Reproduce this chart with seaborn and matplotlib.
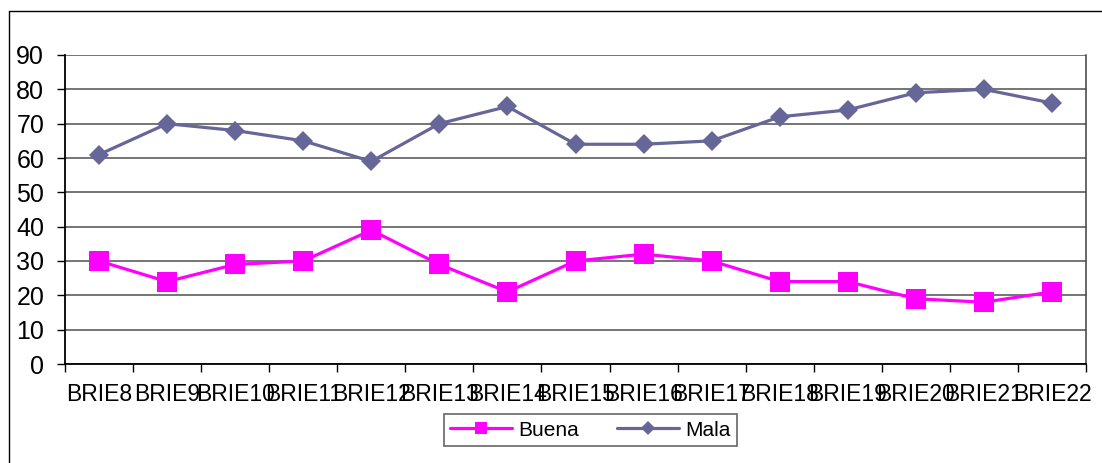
import pandas as pd
import matplotlib
matplotlib.use("Agg")
import matplotlib.pyplot as plt
from matplotlib.lines import Line2D
from matplotlib.ticker import FixedLocator
import seaborn as sns

# --- data ---
categories = ["BRIE8", "BRIE9", "BRIE10", "BRIE11", "BRIE12", "BRIE13", "BRIE14",
              "BRIE15", "BRIE16", "BRIE17", "BRIE18", "BRIE19", "BRIE20", "BRIE21", "BRIE22"]
buena = [30, 24, 29, 30, 39, 29, 21, 30, 32, 30, 24, 24, 19, 18, 21]
mala = [61, 70, 68, 65, 59, 70, 75, 64, 64, 65, 72, 74, 79, 80, 76]
series_names = ["Buena", "Mala"]
y_ticks = [0, 10, 20, 30, 40, 50, 60, 70, 80, 90]

df = pd.DataFrame({
    "cat": categories * 2,
    "valor": buena + mala,
    "serie": ["Buena"] * len(buena) + ["Mala"] * len(mala),
})

colors = {"Buena": "#FF00FF", "Mala": "#666699"}
markers = {"Buena": "s", "Mala": "D"}

sns.set_style("white")
plt.rcParams["font.family"] = ["Liberation Sans", "DejaVu Sans"]
plt.rcParams["text.color"] = "black"
plt.rcParams["xtick.color"] = "black"
plt.rcParams["ytick.color"] = "black"

W, H = 1102, 463
fig = plt.figure(figsize=(W / 100, H / 100), dpi=100)
ax = fig.add_axes([65 / W, (H - 364) / H, (1086 - 65) / W, (364 - 55) / H])

# grid lines first
for v in y_ticks:
    ax.axhline(v, color="#505050", lw=1.1, zorder=0)

for name in series_names:
    sub = df[df["serie"] == name]
    sns.lineplot(data=sub, x="cat", y="valor", ax=ax, color=colors[name],
                 marker=markers[name], markersize=15 if name == "Buena" else 10.5,
                 markeredgewidth=0, linewidth=2.3, sort=False, legend=False,
                 zorder=3)

ax.set_xlim(-0.5, len(categories) - 0.5)
ax.set_ylim(0, 90)
ax.set_yticks(y_ticks)
ax.set_xticks(range(len(categories)))
ax.set_xticklabels(categories)
ax.xaxis.set_minor_locator(FixedLocator([i - 0.5 for i in range(len(categories) + 1)]))
ax.tick_params(axis="x", which="major", length=0, pad=14, labelsize=16.5, labelcolor="black")
ax.tick_params(axis="x", which="minor", length=6, width=1, color="black", bottom=True)
ax.tick_params(axis="y", length=6, width=1, color="black", pad=9, labelsize=18,
               labelcolor="black", left=True)
ax.set_xlabel("")
ax.set_ylabel("")

for side in ["left", "bottom"]:
    ax.spines[side].set_color("black")
    ax.spines[side].set_linewidth(1.3)
ax.spines["right"].set_color("#404040")
ax.spines["right"].set_linewidth(1.1)
ax.spines["top"].set_visible(False)

# legend
handles = [Line2D([], [], color=colors[n], marker=markers[n], lw=2.3,
                  markersize=9 if n == "Buena" else 7, markeredgewidth=0)
           for n in series_names]
leg = fig.legend(handles, series_names, ncol=2, loc="center",
                 bbox_to_anchor=(590.5 / W, 1 - 430 / H), fontsize=15,
                 frameon=True, fancybox=False, handlelength=3.0,
                 columnspacing=1.8, handletextpad=0.3, borderpad=0.3)
leg.get_frame().set_edgecolor("#404040")
leg.get_frame().set_linewidth(1.2)
for t in leg.get_texts():
    t.set_color("black")

# outer chart frame (left and top edges)
fig.add_artist(Line2D([8.5 / W, 8.5 / W], [0, 1 - 10.5 / H], color="black", lw=1,
                      transform=fig.transFigure))
fig.add_artist(Line2D([8.5 / W, 1], [1 - 10.5 / H, 1 - 10.5 / H], color="black", lw=1,
                      transform=fig.transFigure))

fig.savefig("out.png", dpi=100)
